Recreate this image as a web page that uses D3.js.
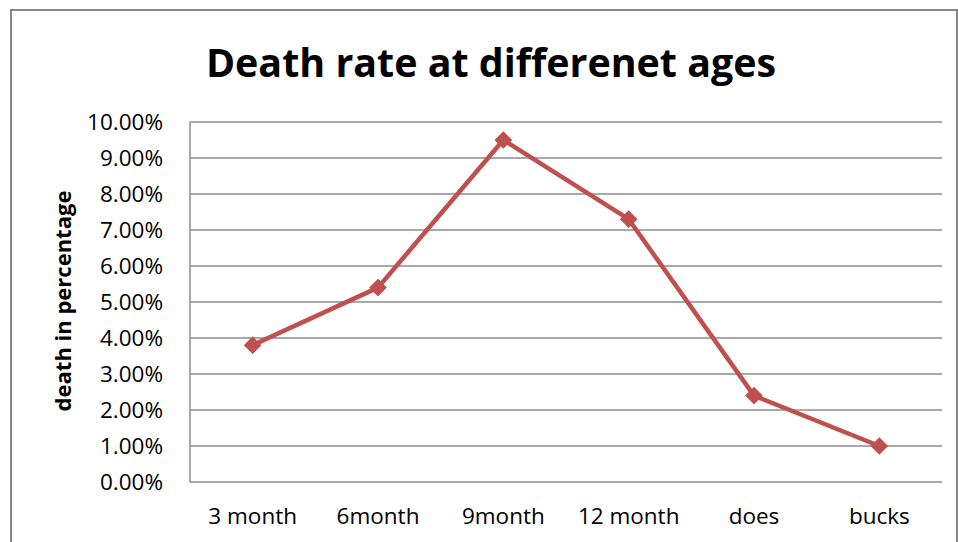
<!DOCTYPE html>
<html>
<head>
<meta charset="utf-8">
<script src="https://cdn.jsdelivr.net/npm/d3@7"></script>
<style>
  body { margin: 0; background: #fff; }
  svg { display: block; font-family: "Open Sans", "Liberation Sans", sans-serif; }
</style>
</head>
<body>
<script>
// chart data
var categories = ["3 month", "6month", "9month", "12 month", "does", "bucks"];
var deathRate = [0.038, 0.054, 0.095, 0.073, 0.024, 0.010];
var yTicks = [0, 0.01, 0.02, 0.03, 0.04, 0.05, 0.06, 0.07, 0.08, 0.09, 0.10];

var width = 958, height = 542;
var margin = {top: 122, right: 16, bottom: 60, left: 190};
var font = '"Open Sans", sans-serif';

var svg = d3.select("body").append("svg")
  .attr("width", width)
  .attr("height", height);

// outer chart frame
svg.append("rect")
  .attr("x", 11).attr("y", 10)
  .attr("width", 946).attr("height", 545)
  .attr("fill", "none")
  .attr("stroke", "#868686")
  .attr("stroke-width", 2);

// Scales
var xScale = d3.scaleBand()
  .domain(categories)
  .range([margin.left, width - margin.right]);
var yScale = d3.scaleLinear()
  .domain([0, 0.10])
  .range([height - margin.bottom, margin.top]);

// Gridlines
svg.append("g")
  .selectAll("line")
  .data(yTicks)
  .enter()
  .append("line")
    .attr("x1", margin.left)
    .attr("x2", width - margin.right)
    .attr("y1", d => yScale(d))
    .attr("y2", d => yScale(d))
    .attr("stroke", "#8c8c8c")
    .attr("stroke-width", 1.5);

// left axis line
svg.append("line")
  .attr("x1", margin.left).attr("x2", margin.left)
  .attr("y1", yScale(0.10)).attr("y2", yScale(0))
  .attr("stroke", "#8c8c8c")
  .attr("stroke-width", 1.5);

// Y tick labels
var yAxis = d3.axisLeft(yScale)
  .tickValues(yTicks)
  .tickFormat(d3.format(".2%"))
  .tickSize(0)
  .tickPadding(27);
var gy = svg.append("g")
  .attr("transform", "translate(" + margin.left + ",0)")
  .call(yAxis)
  .attr("font-family", font)
  .attr("font-size", 22.5);
gy.select(".domain").remove();
gy.selectAll("text").attr("fill", "#000").attr("dy", "0.35em");

// X tick labels
var xAxis = d3.axisBottom(xScale).tickSize(0).tickPadding(26);
var gx = svg.append("g")
  .attr("transform", "translate(0," + yScale(0) + ")")
  .call(xAxis)
  .attr("font-family", font)
  .attr("font-size", 22.5);
gx.select(".domain").remove();
gx.selectAll("text").attr("fill", "#000");

// Line
var line = d3.line()
  .x((d, i) => xScale(categories[i]) + xScale.bandwidth() / 2)
  .y(d => yScale(d));
svg.append("path")
  .datum(deathRate)
  .attr("d", line)
  .attr("fill", "none")
  .attr("stroke", "#c0504d")
  .attr("stroke-width", 4.5)
  .attr("stroke-linejoin", "round");

// Markers
svg.selectAll(".marker")
  .data(deathRate)
  .enter()
  .append("path")
    .attr("class", "marker")
    .attr("d", d3.symbol().type(d3.symbolDiamond2).size(200))
    .attr("transform", (d, i) => "translate(" + (xScale(categories[i]) + xScale.bandwidth() / 2) + "," + yScale(d) + ")")
    .attr("fill", "#c0504d");

// Title
svg.append("text")
  .attr("x", 491).attr("y", 77)
  .attr("text-anchor", "middle")
  .attr("font-size", "39.4px")
  .attr("font-weight", "bold")
  .text("Death rate at differenet ages");

// Y axis title
svg.append("text")
  .attr("transform", "translate(71,301) rotate(-90)")
  .attr("text-anchor", "middle")
  .attr("font-size", "22px")
  .attr("font-weight", "bold")
  .text("death in percentage");
</script>
</body>
</html>
